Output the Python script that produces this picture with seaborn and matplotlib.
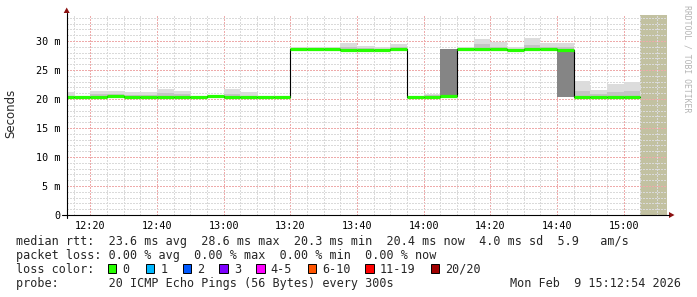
import numpy as np
import pandas as pd
import matplotlib
matplotlib.use("Agg")
import matplotlib.pyplot as plt
from matplotlib.patches import Rectangle, Polygon
from matplotlib.lines import Line2D
import seaborn as sns

# ---------------- data (minutes after 12:00, 5-minute bins, values in ms) ----
bin_start = [10, 15, 20, 25, 30, 35, 40, 45, 50, 55, 60, 65, 70, 75,
             80, 85, 90, 95, 100, 105, 110,
             115, 120, 125,
             130, 135, 140, 145, 150, 155, 160,
             165, 170, 175, 180]
median_rtt = [20.4, 20.4, 20.4, 20.6, 20.4, 20.4, 20.4, 20.4, 20.4, 20.5, 20.4, 20.4, 20.4, 20.4,
              28.7, 28.7, 28.6, 28.5, 28.5, 28.5, 28.7,
              20.4, 20.4, 20.6,
              28.7, 28.7, 28.7, 28.4, 28.7, 28.7, 28.4,
              20.4, 20.4, 20.4, 20.4]
smoke_min = [20.3, 20.3, 20.3, 20.3, 20.3, 20.3, 20.3, 20.3, 20.3, 20.3, 20.3, 20.3, 20.3, 20.3,
             28.5, 28.5, 28.4, 28.3, 28.3, 28.3, 28.5,
             20.2, 20.3, 20.5,
             28.5, 28.5, 28.5, 28.3, 28.5, 28.5, 20.3,
             20.3, 20.3, 20.3, 20.3]
smoke_max = [21.2, 20.6, 21.4, 21.4, 21.2, 21.2, 21.8, 21.4, 20.6, 20.7, 21.8, 21.2, 20.5, 20.5,
             29.0, 29.0, 28.9, 29.7, 29.1, 29.0, 29.5,
             20.6, 20.9, 28.6,
             28.9, 30.3, 29.8, 28.9, 30.5, 29.6, 29.6,
             23.1, 21.6, 22.6, 23.0]
smoke_q3 = [20.6, 20.5, 20.8, 20.9, 20.7, 20.7, 21.0, 20.8, 20.5, 20.6, 20.9, 20.6, 20.4, 20.4,
            28.8, 28.8, 28.7, 29.0, 28.8, 28.7, 28.9,
            20.5, 20.7, 28.6,
            28.8, 29.5, 29.0, 28.6, 29.3, 29.0, 29.0,
            21.4, 20.8, 21.2, 21.3]
core_lo = [20.4, 20.4, 20.4, 20.6, 20.4, 20.4, 20.4, 20.4, 20.4, 20.5, 20.4, 20.4, 20.4, 20.4,
           28.7, 28.7, 28.6, 28.5, 28.5, 28.5, 28.7,
           20.4, 20.4, 20.6,
           28.7, 28.7, 28.7, 28.4, 28.7, 28.7, 20.4,
           20.4, 20.4, 20.4, 20.4]
core_hi = [20.4, 20.4, 20.4, 20.6, 20.4, 20.4, 20.4, 20.4, 20.4, 20.5, 20.4, 20.4, 20.4, 20.4,
           28.7, 28.7, 28.6, 28.5, 28.5, 28.5, 28.7,
           20.4, 20.4, 28.6,
           28.7, 28.7, 28.7, 28.4, 28.7, 28.7, 28.4,
           20.4, 20.4, 20.4, 20.4]
loss_count = [0, 0, 0, 0, 0, 0, 0, 0, 0, 0, 0, 0, 0, 0,
              0, 0, 0, 0, 0, 0, 0,
              0, 0, 0,
              0, 0, 0, 0, 0, 0, 0,
              0, 0, 0, 0]
bin_width = 5
unknown_start = 185
view_start = 12.9    # 12:12:54
view_end = 192.9     # 15:12:54

x_tick_pos = [20, 40, 60, 80, 100, 120, 140, 160, 180]
x_tick_labels = ["12:20", "12:40", "13:00", "13:20", "13:40", "14:00", "14:20", "14:40", "15:00"]
y_tick_pos = [0, 5, 10, 15, 20, 25, 30]
y_tick_labels = ["0", "5 m", "10 m", "15 m", "20 m", "25 m", "30 m"]

loss_labels = ["0", "1", "2", "3", "4-5", "6-10", "11-19", "20/20"]
loss_colors = ["#26ff00", "#00b8ff", "#0059ff", "#7e00ff", "#ff00ff", "#ff5500", "#ff0000", "#a00000"]

legend_rtt = "median rtt:  23.6 ms avg  28.6 ms max  20.3 ms min  20.4 ms now  4.0 ms sd  5.9   am/s"
legend_loss = "packet loss: 0.00 % avg  0.00 % max  0.00 % min  0.00 % now"
legend_probe = "probe:       20 ICMP Echo Pings (56 Bytes) every 300s"
legend_date = "Mon Feb  9 15:12:54 2026"

# ---------------- figure ----------------
sns.set_style("white")
plt.rcParams["font.family"] = ["DejaVu Sans Mono", "DejaVu Sans"]

W, H = 697, 297
fig = plt.figure(figsize=(W / 100, H / 100), dpi=100)
def fx(px): return px / W
def fy(py): return 1 - py / H

ax = fig.add_axes([fx(66.7), fy(215), 600 / W, 200 / H])
ax.set_xlim(view_start, view_end)
ax.set_ylim(0, 200 / 5.8)

df = pd.DataFrame({"start": bin_start, "median": median_rtt, "mn": smoke_min, "mx": smoke_max,
                   "q3": smoke_q3, "c1": core_lo, "c2": core_hi, "loss": loss_count})

# unknown data area
ax.axvspan(unknown_start, view_end, color="#c2c1a1", lw=0, zorder=0.2)

# smoke
ax.bar(df["start"], df["mx"] - df["mn"], bottom=df["mn"], width=bin_width, align="edge",
       color="#dcdcdc", lw=0, zorder=2)
ax.bar(df["start"], df["q3"] - df["mn"], bottom=df["mn"], width=bin_width, align="edge",
       color="#c4c4c4", lw=0, zorder=2.1)
ax.bar(df["start"], df["c2"] - df["c1"], bottom=df["c1"], width=bin_width, align="edge",
       color="#858585", lw=0, zorder=2.2)

# median: thin black step line, then loss-coloured segments
step_df = pd.DataFrame({"t": bin_start + [unknown_start], "m": median_rtt + [median_rtt[-1]]})
sns.lineplot(data=step_df, x="t", y="m", drawstyle="steps-post", color="black", lw=0.8,
             estimator=None, ax=ax, zorder=3)
seg_colors = [loss_colors[min(l, 7)] for l in df["loss"]]
ax.hlines(df["median"], df["start"], df["start"] + bin_width, colors=seg_colors, lw=2.3, zorder=4)

# grid
ax.set_axisbelow(True)
ax.set_xticks(x_tick_pos)
ax.set_xticklabels(x_tick_labels)
ax.set_xticks(np.arange(15, 195, 5), minor=True)
ax.set_yticks(y_tick_pos)
ax.set_yticklabels(y_tick_labels)
ax.set_yticks(np.arange(0, 35, 1), minor=True)
ax.grid(which="minor", color="#dadada", lw=1.0, ls=(0, (1, 1)), antialiased=False)
ax.grid(which="major", color="#eeaaaa", lw=1.0, ls=(0, (1, 1)), antialiased=False)
ax.set_xlabel("")
ax.set_ylabel("")
for s in ax.spines.values():
    s.set_visible(False)
ax.tick_params(axis="x", which="major", length=2.2, width=0.72, pad=1.8, labelsize=7.3, colors="black")
ax.tick_params(axis="y", which="major", length=2.6, width=0.72, pad=2.2, labelsize=7.3, colors="black")
ax.tick_params(which="minor", length=0)

# axis lines with arrows
arrow_col = "#8b1010"
fig.add_artist(Line2D([fx(66.7), fx(66.7)], [fy(218), fy(13)], color="black", lw=0.8))
fig.add_artist(Line2D([fx(62), fx(669)], [fy(215), fy(215)], color="black", lw=0.8))
fig.add_artist(Polygon([[fx(63.7), fy(13)], [fx(69.7), fy(13)], [fx(66.7), fy(7.5)]],
                       closed=True, color=arrow_col, lw=0))
fig.add_artist(Polygon([[fx(669), fy(212)], [fx(669), fy(218)], [fx(674.5), fy(215)]],
                       closed=True, color=arrow_col, lw=0))

# labels
fig.text(fx(10.5), fy(113), "Seconds", rotation=90, ha="center", va="center",
         fontsize=8.5, family="DejaVu Sans")
fig.text(fx(687), fy(59), "RRDTOOL / TOBI OETIKER", rotation=-90, ha="center", va="center",
         fontsize=5.9, color="#b4b4b4")

fs = 8.5
def t(px, base, s, **kw):
    fig.text(fx(px), fy(base), s, fontsize=fs, va="baseline", ha=kw.pop("ha", "left"), **kw)

b1, b2, b3, b4 = 244.5, 258.7, 272.7, 286.9
t(16, b1, legend_rtt)
t(16, b2, legend_loss)
t(16, b3, "loss color:")
sq_x = [108, 145.7, 182.7, 219.3, 256.3, 308, 365.3, 431]
for xx, lab, col in zip(sq_x, loss_labels, loss_colors):
    fig.add_artist(Rectangle((fx(xx), fy(272.7)), 8.3 / W, 8.3 / H, facecolor=col,
                             edgecolor="black", lw=0.7))
    t(xx + 14.5, b3, lab)
t(16, b4, legend_probe)
t(681, b4, legend_date, ha="right")

fig.savefig("out.png", dpi=100)
